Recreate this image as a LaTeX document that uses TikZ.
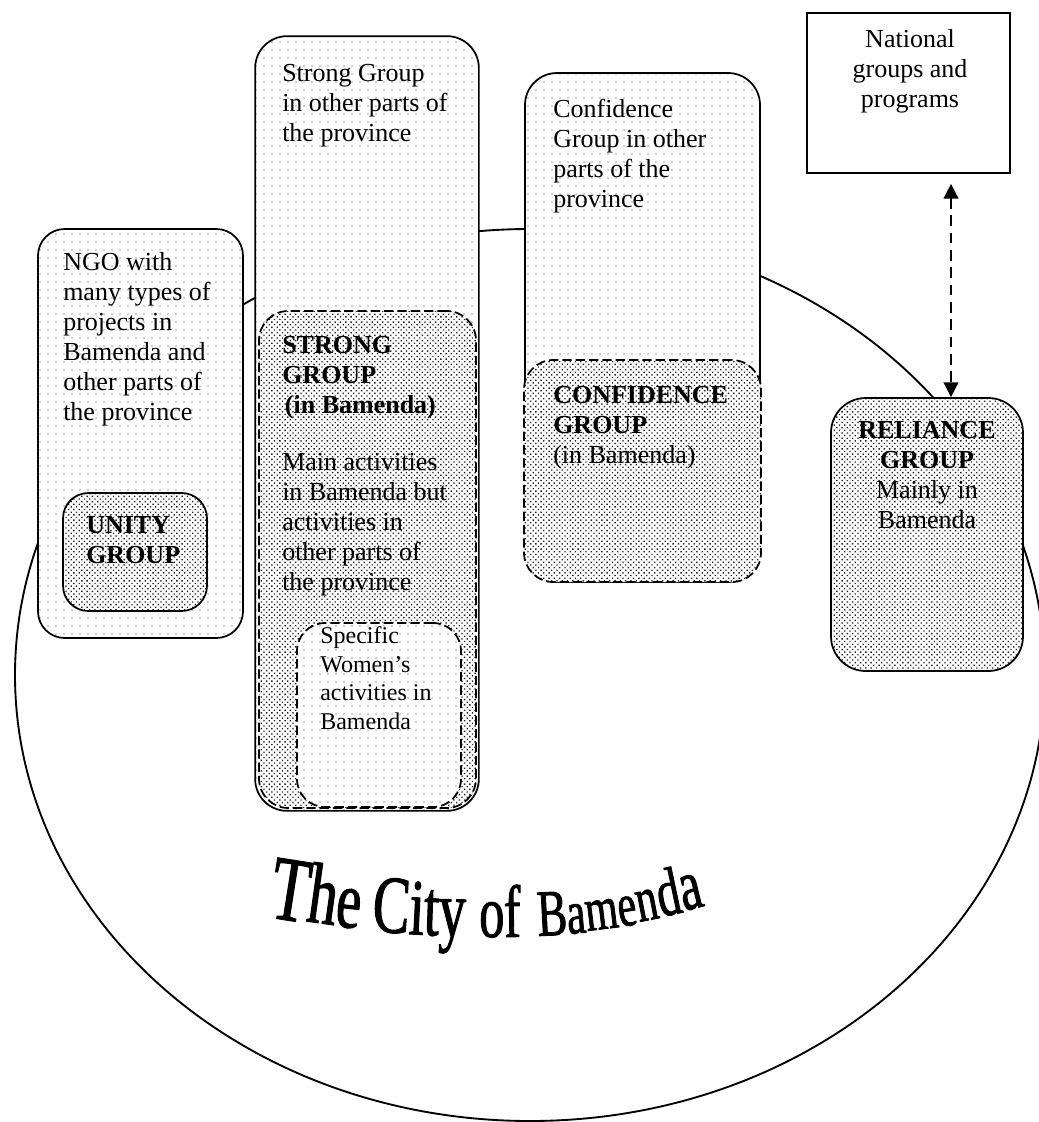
\documentclass[tikz,border=0pt]{standalone}
\usepackage{fontspec}
\setmainfont{Liberation Serif}
\newfontfamily\titlefont[FakeStretch=0.68,FakeBold=1.2]{Liberation Serif}
\usetikzlibrary{patterns.meta,arrows.meta,calc}
\begin{document}
\begin{tikzpicture}[x=0.75pt,y=-0.75pt,
  box/.style={rectangle,inner sep=0pt,line width=1.3pt,draw=black},
  sz/.style 2 args={minimum width=#1*0.75pt,minimum height=#2*0.75pt},
  sparse/.style={preaction={fill=white},pattern={Dots[distance=6pt,radius=0.55pt]},pattern color=black!80},
  dense/.style={preaction={fill=white},pattern={Dots[distance=2.8pt,angle=45,radius=0.72pt]},pattern color=black!85},
  dashline/.style={dash pattern=on 7pt off 3pt},
  txt/.style={anchor=base west,inner sep=0pt,align=left,font=\fontsize{19.5pt}{22.5pt}\selectfont},
  ctxt/.style={anchor=base,inner sep=0pt,align=center,font=\fontsize{19.5pt}{22.5pt}\selectfont},
  wtxt/.style={anchor=base west,inner sep=0pt,align=left,font=\fontsize{18pt}{21.3pt}\selectfont},
  dblarrow/.style={line width=1.2pt,dash pattern=on 8pt off 5pt,{Triangle[length=11pt,width=11pt]}-{Triangle[length=11pt,width=11pt]}},
  ttl/.style={anchor=base west,inner sep=0pt}
]
\clip (0,0) rectangle (1039,1122);
% the city
\draw[line width=1.4pt] (530,675) ellipse [x radius=386.25pt, y radius=334.5pt];
% NGO and Unity
\node[box,sparse,sz={205}{409},rounded corners=20pt] (ngo) at (140.5,433.5) {};
\node[box,dense,sz={144}{118},rounded corners=19pt] (unity) at (135,552) {};
% Strong
\node[box,sparse,draw=none,sz={222}{773},rounded corners=24pt] (strong) at (367,423.5) {};
\node[box,dense,dashline,sz={217}{497},rounded corners=22pt] (strongin) at (367.5,559.5) {};
\node[box,sparse,dashline,sz={164}{184},rounded corners=21pt] (women) at (379,715) {};
\draw[line width=1.3pt,rounded corners=24pt] (strong.south west) rectangle (strong.north east);
% Confidence
\node[box,sparse,sz={235}{509},rounded corners=24pt] (conf) at (642.5,327.5) {};
\node[box,dense,dashline,sz={237}{222},rounded corners=22pt] (confin) at (642.5,471) {};
% Reliance
\node[box,dense,sz={192}{273},rounded corners=26pt] (rel) at (927,534.5) {};
% National
\node[box,fill=white,sz={203}{160}] (nat) at (908.5,93) {};
\coordinate (ax) at (951,0);
\draw[dblarrow,shorten <=7.5pt] (nat.south -| ax) -- (rel.north -| ax);
% texts (anchor = baseline of the last line)
\node[txt] (ngot) at (63,420) {NGO with\\many types of\\projects in\\Bamenda and\\other parts of\\the province};
\node[txt,font=\fontsize{19.5pt}{22.5pt}\selectfont\bfseries] (unityt) at (86,563) {UNITY\\GROUP};
\node[txt] (strongt) at (282,141) {Strong Group\\in other parts of\\the province};
\node[txt,font=\fontsize{19.5pt}{22.5pt}\selectfont\bfseries] (strongb) at (282,413) {STRONG\\GROUP\\\hspace*{2pt}(in Bamenda)};
\node[txt] (strongm) at (282,590) {Main activities\\in Bamenda but\\activities in\\other parts of\\the province};
\node[wtxt] (womt) at (320,729) {Specific\\Women’s\\activities in\\Bamenda};
\node[txt] (conft) at (553,207) {Confidence\\Group in other\\parts of the\\province};
\node[txt] (confb) at (553,463) {\textbf{CONFIDENCE}\\\textbf{GROUP}\\(in Bamenda)};
\node[ctxt] (relt) at (927,528) {\textbf{RELIANCE}\\\textbf{GROUP}\\Mainly in\\Bamenda};
\node[ctxt] (natt) at (910,107) {National\\groups and\\programs};
% title
\foreach \ch/\x/\y/\r/\s [count=\i] in {T/267/917/-9/69, h/305/921/-8/64.5, e/334/926/-6/61.5,
  C/371/931/-4/61.5, i/408/934/-3/60, t/423/935/-2/60, y/438/936/-1/60,
  o/479/937/0/55.5, f/504/937/1/55.5,
  B/538/936/3/49.5, a/568/934/5/46.5, m/587/931/7/46.5, e/620/927/9/46.5, n/639/922/11/48, d/661/917/12/51, a/684/911/14/54}
  \node[ttl,rotate=\r,font=\titlefont\fontsize{\s pt}{\s pt}\selectfont] (ttl\i) at (\x,\y) {\ch};
\end{tikzpicture}
\end{document}
